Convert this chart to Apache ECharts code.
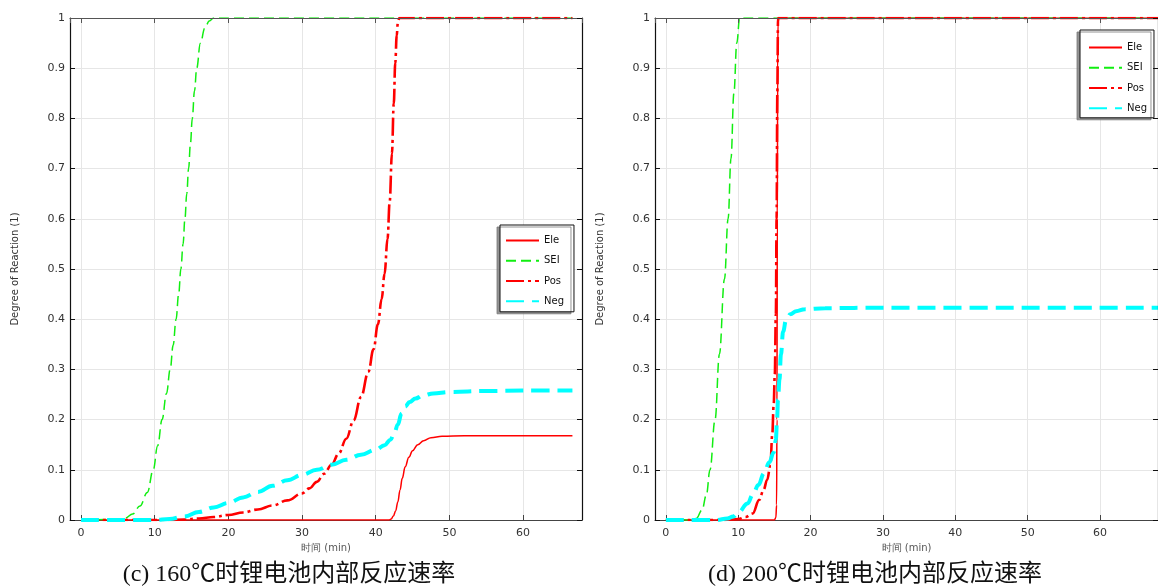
<!DOCTYPE html>
<html><head><meta charset="utf-8">
<script src="https://cdn.jsdelivr.net/npm/echarts@6/dist/echarts.min.js"></script>
<style>html,body{margin:0;padding:0;background:#fff}#c{width:1158px;height:587px}</style>
</head><body><div id="c"></div>
<script>
// ---- data (time in min, degree of reaction) ----
const seriesNames = ['Ele', 'SEI', 'Pos', 'Neg'];
const xTickLabels = [0, 10, 20, 30, 40, 50, 60];
const yTickLabels = [0, 0.1, 0.2, 0.3, 0.4, 0.5, 0.6, 0.7, 0.8, 0.9, 1];
const captions = ['(c) 160℃时锂电池内部反应速率', '(d) 200℃时锂电池内部反应速率'];

// (c) 160 °C
const ele160 = [[0,0],[41.8,0],[42.1,0.002],[42.4,0.008],[42.7,0.018],[43.0,0.036],[43.3,0.06],[43.6,0.083],[44.0,0.106],[44.5,0.125],[45,0.138],[45.7,0.15],[46.5,0.158],[47.5,0.164],[49,0.167],[52,0.168],[66.7,0.168]];
const sei160 = [[0,0],[5,0.001],[6,0.004],[7,0.012],[8,0.028],[9,0.055],[9.8,0.1],[10.4,0.148],[11.0,0.2],[11.6,0.252],[12.1,0.3],[12.5,0.348],[12.9,0.4],[13.25,0.45],[13.55,0.5],[13.85,0.55],[14.1,0.6],[14.35,0.65],[14.6,0.7],[14.85,0.75],[15.1,0.8],[15.4,0.855],[15.7,0.9],[16.2,0.95],[16.8,0.98],[17.4,0.994],[18,1],[66.7,1]];
const pos160 = [[0,0],[12,0],[14,0.001],[16,0.003],[18,0.006],[20,0.01],[22,0.015],[24,0.021],[26,0.029],[28,0.039],[30,0.053],[31,0.063],[32,0.076],[33,0.092],[34,0.11],[35,0.133],[36,0.162],[37,0.198],[38,0.245],[39,0.295],[39.7,0.34],[40.3,0.39],[40.8,0.44],[41.2,0.49],[41.6,0.56],[41.9,0.635],[42.2,0.73],[42.45,0.83],[42.65,0.91],[42.85,0.965],[43.0,0.99],[43.2,1],[66.7,1]];
const neg160 = [[0,0],[10,0],[12,0.002],[14,0.007],[16,0.016],[18,0.025],[20,0.034],[22,0.045],[24,0.056],[26,0.068],[28,0.079],[30,0.09],[32,0.1],[34,0.11],[36,0.12],[38,0.13],[40,0.14],[41.2,0.149],[42,0.16],[42.5,0.172],[43,0.19],[43.5,0.212],[44,0.226],[44.6,0.235],[45.4,0.242],[46.4,0.248],[47.8,0.252],[50,0.255],[55,0.257],[60,0.258],[66.7,0.258]];

// (d) 200 °C
const ele200 = [[0,0],[15.0,0],[15.2,0.005],[15.3,0.03],[15.35,0.2],[15.4,0.6],[15.45,0.9],[15.5,0.99],[15.6,1],[68,1]];
const sei200 = [[0,0],[3.5,0],[4.2,0.003],[5,0.02],[5.6,0.05],[6.1,0.1],[6.8,0.2],[7.4,0.33],[8.1,0.48],[8.6,0.6],[9.0,0.72],[9.4,0.85],[9.8,0.95],[10.2,1],[68,1]];
const pos200 = [[0,0],[8,0],[9,0.001],[10,0.002],[11,0.006],[12,0.013],[12.9,0.04],[13.5,0.06],[14.0,0.08],[14.45,0.11],[14.7,0.17],[14.9,0.23],[15.05,0.29],[15.2,0.41],[15.3,0.6],[15.4,0.85],[15.5,1],[68,1]];
const neg200 = [[0,0],[7,0],[8.5,0.003],[9.3,0.007],[10,0.015],[11.3,0.033],[12,0.05],[12.8,0.07],[13.55,0.093],[14.3,0.115],[14.9,0.135],[15.2,0.16],[15.35,0.195],[15.5,0.24],[15.7,0.28],[15.9,0.33],[16.2,0.375],[16.6,0.398],[17.2,0.41],[18,0.416],[19.2,0.42],[22,0.422],[30,0.423],[68,0.423]];

const dataSets = [[ele160, sei160, pos160, neg160], [ele200, sei200, pos200, neg200]];

// ---- styles ----
const styles = [
  { color: '#ff0000', width: 1.5, type: 'solid' },
  { color: '#11ee11', width: 1.5, type: [10, 5] },
  { color: '#ff0000', width: 2.6, type: [18, 4, 3, 4] },
  { color: '#00ffff', width: 4, type: [18, 8] }
];
const gridsPos = [{ left: 70, top: 18, width: 512, height: 502 }, { left: 655, top: 18, width: 512, height: 502 }];
const font = 'DejaVu Sans';

const grid = [], xAxis = [], yAxis = [], series = [];
gridsPos.forEach((g, gi) => {
  grid.push(g);
  xAxis.push({
    type: 'value', gridIndex: gi, min: -1.5, max: 68, position: 'bottom',
    name: '时间 (min)', nameLocation: 'middle', nameGap: 21,
    nameTextStyle: { fontSize: 10, color: '#555', fontFamily: font },
    axisLine: { onZero: false, lineStyle: { color: '#444', width: 1.2 } },
    axisTick: { inside: true, length: 5, lineStyle: { color: '#444' } },
    axisLabel: { fontSize: 11, color: '#333', fontFamily: font, margin: 8, showMinLabel: false, showMaxLabel: false,
      formatter: v => (xTickLabels.indexOf(v) >= 0 ? String(v) : '') },
    splitLine: { show: true, lineStyle: { color: '#e6e6e6', width: 1 } }
  });
  xAxis.push({
    type: 'value', gridIndex: gi, min: -1.5, max: 68, position: 'top', z: 10,
    axisLine: { onZero: false, lineStyle: { color: '#555', width: 1.2 } },
    axisTick: { inside: true, length: 5, lineStyle: { color: '#555' } },
    axisLabel: { show: false }, splitLine: { show: false }
  });
  yAxis.push({
    type: 'value', gridIndex: gi, min: 0, max: 1, interval: 0.1, position: 'left',
    name: 'Degree of Reaction (1)', nameLocation: 'middle', nameGap: 50, nameRotate: 90,
    nameTextStyle: { fontSize: 10, color: '#333', fontFamily: font },
    axisLine: { onZero: false, lineStyle: { color: '#111', width: 1.2 } },
    axisTick: { inside: true, length: 5, lineStyle: { color: '#111' } },
    axisLabel: { fontSize: 11, color: '#333', fontFamily: font, margin: 5,
      formatter: v => { const r = Math.round(v * 10) / 10; return yTickLabels.indexOf(r) >= 0 ? String(r) : ''; } },
    splitLine: { show: true, lineStyle: { color: '#e6e6e6', width: 1 } }
  });
  yAxis.push({
    type: 'value', gridIndex: gi, min: 0, max: 1, interval: 0.1, position: 'right', z: 10,
    axisLine: { onZero: false, lineStyle: { color: '#111', width: 1.2 } },
    axisTick: { inside: true, length: 5, lineStyle: { color: '#111' } },
    axisLabel: { show: false }, splitLine: { show: false }
  });
  dataSets[gi].forEach((d, si) => {
    const s = styles[si];
    series.push({
      type: 'line', name: seriesNames[si], xAxisIndex: gi * 2, yAxisIndex: gi * 2,
      data: d, showSymbol: false, symbol: 'none', smooth: 0.4, smoothMonotone: 'x',
      animation: false, silent: true,
      lineStyle: { color: s.color, width: s.width, type: s.type },
      itemStyle: { color: s.color }
    });
  });
});

const legendBase = {
  orient: 'vertical', data: seriesNames, itemWidth: 33, itemHeight: 14, itemGap: 9,
  backgroundColor: '#fff', borderColor: '#111', borderWidth: 1,
  shadowColor: 'rgba(120,120,120,0.8)', shadowBlur: 0, shadowOffsetX: -3, shadowOffsetY: 2,
  itemStyle: { opacity: 0 },
  textStyle: { fontSize: 10, color: '#111', fontFamily: font }, selectedMode: false
};
const legend = [
  Object.assign({}, legendBase, { left: 500, top: 225, padding: [10, 10, 5, 5] }),
  Object.assign({}, legendBase, { left: 1080, top: 30, padding: [12, 7, 4, 8] })
];

const graphic = captions.map((t, i) => ({
  type: 'text', x: [289, 875][i], y: 575,
  style: { text: t, fill: '#111', font: '24px "Liberation Serif", "Noto Sans CJK SC", serif', textAlign: 'center', textVerticalAlign: 'middle' }
}));

const chart = echarts.init(document.getElementById('c'), null, { renderer: 'canvas' });
chart.setOption({ animation: false, backgroundColor: '#fff', grid, xAxis, yAxis, series, legend, graphic });
</script></body></html>
